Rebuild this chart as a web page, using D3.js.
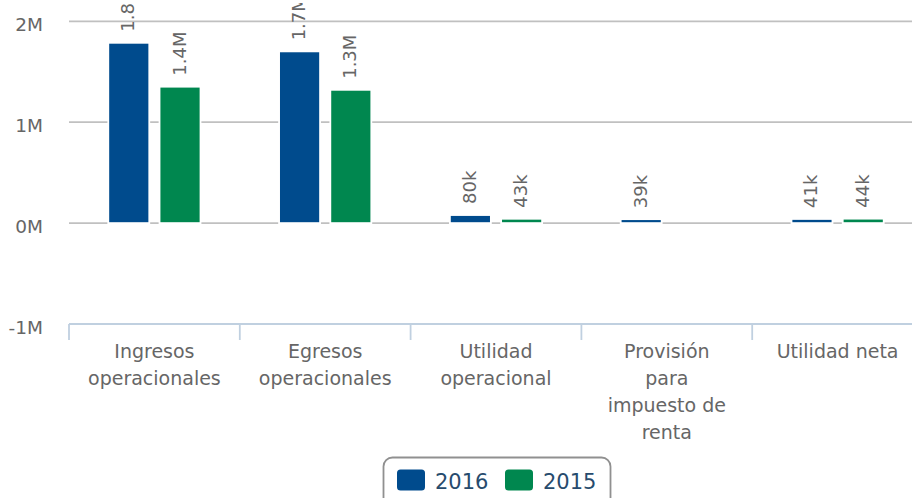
<!DOCTYPE html>
<html>
<head>
<meta charset="utf-8">
<script src="https://cdn.jsdelivr.net/npm/d3@7/dist/d3.min.js"></script>
<style>
  html, body { margin: 0; padding: 0; background: #fff; }
  svg { display: block; font-family: "DejaVu Sans", Verdana, sans-serif; }
</style>
</head>
<body>
<svg id="chart" width="912" height="498"></svg>
<script>
// ---- data ----
const categories = [
  "Ingresos\noperacionales",
  "Egresos\noperacionales",
  "Utilidad\noperacional",
  "Provisión\npara\nimpuesto de\nrenta",
  "Utilidad neta"
];
const seriesNames = ["2016", "2015"];
const values2016 = [1787000, 1702000, 80000, 39000, 41000];
const values2015 = [1352000, 1321000, 43000, null, 44000];
const yTickValues = [-1000000, 0, 1000000, 2000000];
const yTickLabels = ["-1M", "0M", "1M", "2M"];
const seriesColors = ["#004b8d", "#00874f"];

// ---- layout ----
const W = 912, H = 498;
const plotLeft = 69, plotRight = 923;
const svg = d3.select("#chart");

const x0 = d3.scaleBand().domain(categories).range([plotLeft, plotRight]).paddingInner(0).paddingOuter(0);
const groupPad = 0.2 * x0.bandwidth();
const x1 = d3.scaleBand().domain(seriesNames)
  .range([groupPad, x0.bandwidth() - groupPad])
  .paddingInner(0.2).paddingOuter(0.1);
const y = d3.scaleLinear().domain([-1000000, 2000000]).range([324, 21.3]);

const fmt = v => Math.abs(v) >= 1e6 ? (v / 1e6).toFixed(1) + "M" : Math.round(v / 1000) + "k";

// grid lines
svg.append("g").selectAll("line").data(yTickValues.filter(v => v !== -1000000)).join("line")
  .attr("x1", plotLeft).attr("x2", W)
  .attr("y1", d => y(d)).attr("y2", d => y(d))
  .attr("stroke", "#c0c0c0").attr("stroke-width", 1.8);

// y labels
svg.append("g").selectAll("text").data(yTickValues).join("text")
  .attr("x", 43).attr("y", d => y(d) + 9.5)
  .attr("text-anchor", "end")
  .attr("font-size", 18.5).attr("fill", "#666")
  .text((d, i) => yTickLabels[i]);

// x axis
const axisY = y(-1000000);
svg.append("line").attr("x1", plotLeft).attr("x2", W).attr("y1", axisY).attr("y2", axisY)
  .attr("stroke", "#c0d0e0").attr("stroke-width", 1.8);
const tickXs = categories.map(c => x0(c)).concat([plotRight]);
svg.append("g").selectAll("line").data(tickXs).join("line")
  .attr("x1", d => d).attr("x2", d => d)
  .attr("y1", axisY).attr("y2", axisY + 16)
  .attr("stroke", "#c0d0e0").attr("stroke-width", 1.8);

// x labels
const xl = svg.append("g").selectAll("text").data(categories).join("text")
  .attr("text-anchor", "middle").attr("font-size", 19).attr("fill", "#666")
  .attr("transform", d => `translate(${x0(d) + x0.bandwidth() / 2},358)`);
xl.each(function(d) {
  const lines = d.split("\n");
  d3.select(this).selectAll("tspan").data(lines).join("tspan")
    .attr("x", 0).attr("y", (l, i) => i * 27).text(l => l);
});

// bars
const allSeries = [values2016, values2015];
const barData = [];
categories.forEach((c, ci) => {
  seriesNames.forEach((s, si) => {
    const v = allSeries[si][ci];
    if (v !== null && v !== undefined) barData.push({ c, s, si, v });
  });
});

svg.append("g").selectAll("rect").data(barData).join("rect")
  .attr("x", d => x0(d.c) + x1(d.s))
  .attr("width", x1.bandwidth())
  .attr("y", d => y(Math.max(0, d.v)))
  .attr("height", d => Math.abs(y(d.v) - y(0)))
  .attr("fill", d => seriesColors[d.si])
  .attr("stroke", "#fff").attr("stroke-width", 1.8);

// data labels (clipped near top)
svg.append("defs").append("clipPath").attr("id", "lblclip")
  .append("rect").attr("x", 0).attr("y", 3).attr("width", W).attr("height", H);
svg.append("g").attr("clip-path", "url(#lblclip)")
  .selectAll("text").data(barData).join("text")
  .attr("transform", d => `translate(${x0(d.c) + x1(d.s) + x1.bandwidth() / 2 + 5.5},${y(Math.max(0, d.v)) - 11}) rotate(-90)`)
  .attr("text-anchor", "start").attr("font-size", 18).attr("fill", "#666")
  .text(d => fmt(d.v));

// legend
const lg = svg.append("g");
lg.append("rect").attr("x", 383.5).attr("y", 457.5).attr("width", 227).attr("height", 60)
  .attr("rx", 9).attr("fill", "#fff").attr("stroke", "#909090").attr("stroke-width", 1.8);
const legendX = [397, 505];
seriesNames.forEach((s, i) => {
  lg.append("rect").attr("x", legendX[i]).attr("y", 469.5).attr("width", 28).attr("height", 21)
    .attr("rx", 3.5).attr("fill", seriesColors[i]);
  lg.append("text").attr("x", legendX[i] + 38).attr("y", 489)
    .attr("font-size", 21).attr("fill", "#274b6d").text(s);
});
</script>
</body>
</html>
